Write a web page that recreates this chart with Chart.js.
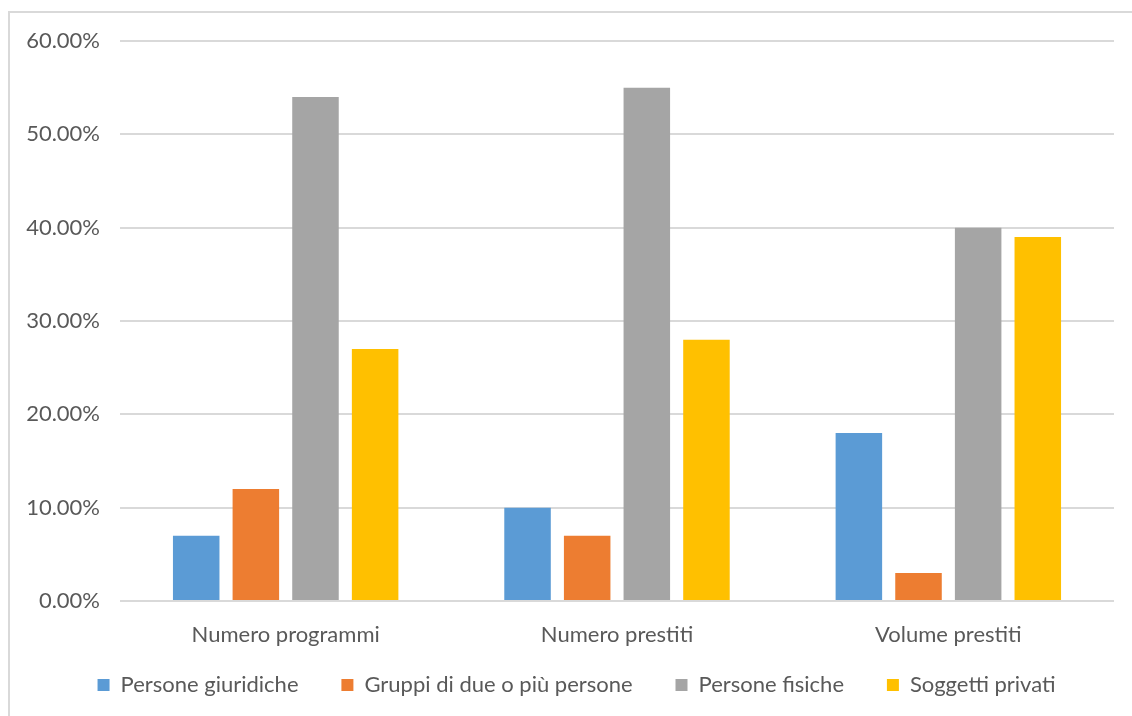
<!DOCTYPE html>
<html>
<head>
<meta charset="utf-8">
<script src="https://cdn.jsdelivr.net/npm/chart.js@4.4.0/dist/chart.umd.min.js"></script>
<style>
    html, body { margin: 0; padding: 0; background: #fff; }
    #wrap { position: relative; width: 1132px; height: 716px; }
    #frame {
        position: absolute; left: 8px; top: 11px; right: 0; bottom: 0;
        border-left: 2px solid #d9d9d9; border-top: 2px solid #d9d9d9;
        pointer-events: none;
    }
</style>
</head>
<body>
<div id="wrap">
    <canvas id="chart" width="1132" height="716"></canvas>
    <div id="frame"></div>
</div>
<script>
const categories = ['Numero programmi', 'Numero prestiti', 'Volume prestiti'];

const seriesNames = ['Persone giuridiche', 'Gruppi di due o più persone', 'Persone fisiche', 'Soggetti privati'];
const seriesColors = ['#5B9BD5', '#ED7D31', '#A5A5A5', '#FFC000'];

// percentages per category
const personeGiuridiche = [7, 10, 18];
const gruppi = [12, 7, 3];
const personeFisiche = [54, 55, 40];
const soggettiPrivati = [27, 28, 39];

const yMax = 60;
const yStep = 10;

const seriesValues = [personeGiuridiche, gruppi, personeFisiche, soggettiPrivati];
const textColor = '#595959';
const fontFamily = 'Lato, "Noto Sans", sans-serif';
const fontSize = 22;

// nudge the legend row to the right, under the plot
const legendShift = {
    id: 'legendShift',
    afterLayout: (chart) => { chart.legend.left += 56; }
};

const ctx = document.getElementById('chart').getContext('2d');

new Chart(ctx, {
    type: 'bar',
    data: {
        labels: categories,
        datasets: seriesNames.map((name, i) => ({
            label: name,
            data: seriesValues[i],
            backgroundColor: seriesColors[i],
            borderWidth: 0,
            barPercentage: 0.78,
            categoryPercentage: 0.72
        }))
    },
    plugins: [legendShift],
    options: {
        responsive: false,
        animation: false,
        layout: {
            padding: { top: 41, right: 18, left: 0, bottom: 10 }
        },
        plugins: {
            tooltip: { enabled: false },
            legend: {
                position: 'bottom',
                labels: {
                    color: textColor,
                    font: { family: fontFamily, size: fontSize },
                    boxWidth: 12,
                    boxHeight: 12,
                    padding: 26,
                    // a little extra room between legend entries
                    generateLabels: (chart) =>
                        Chart.defaults.plugins.legend.labels.generateLabels(chart)
                            .map(item => ({ ...item, text: item.text + '   ' }))
                }
            }
        },
        scales: {
            x: {
                grid: { display: false },
                border: { display: false },
                ticks: {
                    color: textColor,
                    font: { family: fontFamily, size: fontSize },
                    padding: 13
                },
                afterFit: (scale) => { scale.height = 47; }
            },
            y: {
                min: 0,
                max: yMax,
                grid: { color: '#d9d9d9', lineWidth: 2, drawTicks: false },
                border: { display: false },
                ticks: {
                    stepSize: yStep,
                    color: textColor,
                    font: { family: fontFamily, size: fontSize },
                    padding: 20,
                    callback: (v) => v.toFixed(2) + '%'
                },
                afterFit: (scale) => { scale.width = 120; }
            }
        }
    }
});
</script>
</body>
</html>
